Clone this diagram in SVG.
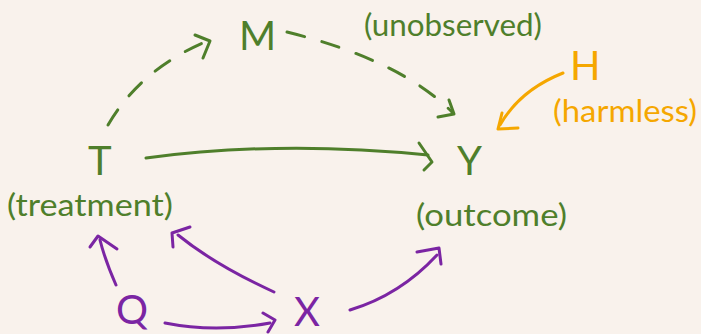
<svg xmlns="http://www.w3.org/2000/svg" width="701" height="334" viewBox="0 0 701 334">
<style>
.t{font-family:Lato,"Noto Sans",sans-serif;font-size:30px;}
.L{font-size:40px;}
.g{fill:#4f7f2b;}
.p{fill:#7b25a3;}
.o{fill:#f5a700;}
.c{fill:none;stroke-width:3;stroke-linecap:round;stroke-linejoin:round;}
.cg{stroke:#4f7f2b;}
.cp{stroke:#7b25a3;}
.co{stroke:#f5a700;}
.d{stroke-dasharray:18 18;}
</style>
<rect width="701" height="334" fill="#f9f2ec"/>
<g id="connectors">
<path class="c cg d" d="M108 125 Q140 70 205 42"/>
<path class="c cg" d="M195 35 L210 41 L203 58"/>
<path class="c cg d" d="M287 32 Q400 60 452 112"/>
<path class="c cg" d="M438 117 L454 114 L449 100"/>
<path class="c cg" d="M146 158 Q280 140 428 155"/>
<path class="c cg" d="M419 143 L432 162 L424 170"/>
<path class="c co" d="M563 73 Q520 90 500 125"/>
<path class="c co" d="M502 113 L498 129 L518 128"/>
<path class="c cp" d="M116 285 Q105 260 100 240"/>
<path class="c cp" d="M90 247 L98 236 L117 249"/>
<path class="c cp" d="M274 292 Q215 265 178 235"/>
<path class="c cp" d="M173 247 L172 233 L190 227"/>
<path class="c cp" d="M165 323 Q215 333 270 323"/>
<path class="c cp" d="M263 313 L275 320 L268 332"/>
<path class="c cp" d="M350 310 Q400 295 437 255"/>
<path class="c cp" d="M417 252 L439 248 L441 264"/>
</g>
<g id="T"><text class="t L g" x="88" y="175">T</text><text class="t g" x="7" y="216" textLength="166" lengthAdjust="spacingAndGlyphs">(treatment)</text></g>
<g id="M"><text class="t L g" x="239" y="50">M</text></g>
<g id="unobserved"><text class="t g" x="364" y="36" textLength="178" lengthAdjust="spacingAndGlyphs">(unobserved)</text></g>
<g id="H"><text class="t L o" x="570" y="80">H</text><text class="t o" x="553" y="122" textLength="144" lengthAdjust="spacingAndGlyphs">(harmless)</text></g>
<g id="Y"><text class="t L g" x="457" y="175">Y</text><text class="t g" x="416" y="226" textLength="151" lengthAdjust="spacingAndGlyphs">(outcome)</text></g>
<g id="Q"><text class="t L p" x="116" y="324">Q</text></g>
<g id="X"><text class="t L p" x="294" y="326">X</text></g>
</svg>
